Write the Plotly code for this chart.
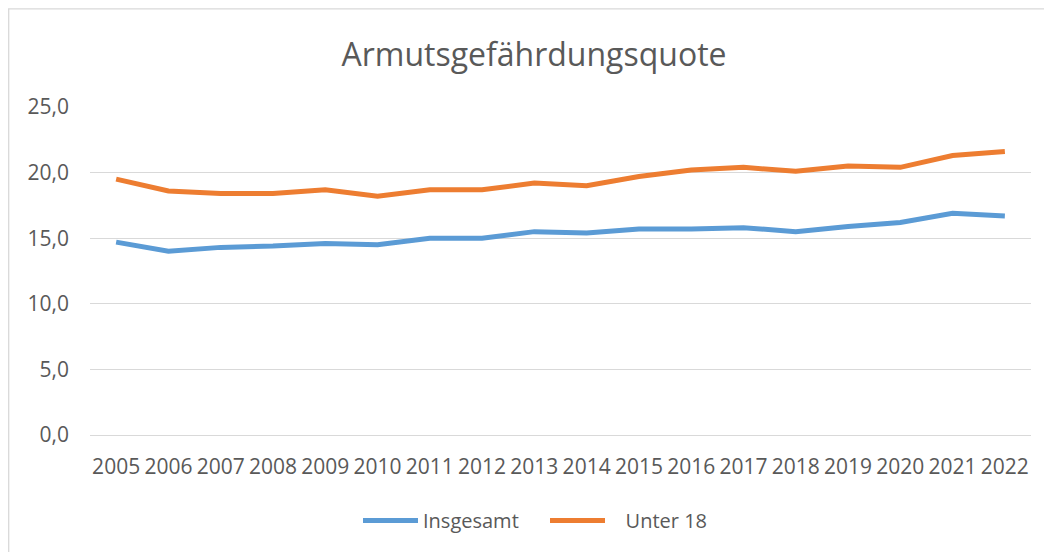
import plotly.graph_objects as go

years = [str(y) for y in range(2005, 2023)]
insgesamt = [14.7, 14.0, 14.3, 14.4, 14.6, 14.5, 15.0, 15.0, 15.5, 15.4,
             15.7, 15.7, 15.8, 15.5, 15.9, 16.2, 16.9, 16.7]
unter18 = [19.5, 18.6, 18.4, 18.4, 18.7, 18.2, 18.7, 18.7, 19.2, 19.0,
           19.7, 20.2, 20.4, 20.1, 20.5, 20.4, 21.3, 21.6]

# page is offset by the default 8px body margin
OX, OY = 8, 8
W, H = 1052 - OX, 552 - OY
# plot area in page coords: x 90..1031, y 107..434.7
L = 90 - OX
R = W - (1031 - OX)
T = 107 - OY
B = H - (434.7 - OY)
pw, ph = W - L - R, H - T - B

def px(x):  # page x -> paper
    return (x - OX - L) / pw

def py(y):  # page y -> paper
    return (H - B - (y - OY)) / ph

font = "Open Sans, Liberation Sans, sans-serif"
txt = "#595959"

fig = go.Figure()
fig.add_trace(go.Scatter(x=years, y=insgesamt, name="Insgesamt", mode="lines",
                         line=dict(color="#5B9BD5", width=5)))
fig.add_trace(go.Scatter(x=years, y=unter18, name="\u00a0\u00a0\u00a0Unter 18", mode="lines",
                         line=dict(color="#ED7D31", width=5)))

fig.update_layout(
    width=W, height=H,
    margin=dict(l=L, r=R, t=T, b=B),
    paper_bgcolor="white", plot_bgcolor="white",
    separators=",.",
    title=dict(text="Armutsgefährdungsquote", x=(534 - OX) / W, xanchor="center",
               xref="container",
               y=1 - (55 - OY) / H, yanchor="middle", yref="container",
               font=dict(family=font, size=32, color=txt)),
    font=dict(family=font, color=txt),
    showlegend=True,
    legend=dict(orientation="h", x=px(366 - 8), xanchor="left", y=py(520), yanchor="middle",
                font=dict(family=font, size=20, color=txt), itemwidth=55,
                entrywidth=117, entrywidthmode="pixels",
                traceorder="normal"),
    xaxis=dict(type="category", showgrid=False, showline=False, zeroline=False,
               tickfont=dict(family=font, size=21, color=txt), ticks="",
               ticklabelstandoff=17, range=[-0.5, 17.5]),
    yaxis=dict(range=[0, 25], dtick=5, tickformat=".1f", showgrid=True,
               gridcolor="#D9D9D9", gridwidth=1.3, zeroline=True,
               zerolinecolor="#D9D9D9", zerolinewidth=1.3, showline=False,
               tickfont=dict(family=font, size=21, color=txt), ticks="",
               ticklabelstandoff=20),
    shapes=[
        dict(type="line", xref="paper", yref="paper", x0=px(8), x1=px(1060),
             y0=py(9), y1=py(9), line=dict(color="#D9D9D9", width=1.3)),
        dict(type="line", xref="paper", yref="paper", x0=px(8.7), x1=px(8.7),
             y0=py(9), y1=py(560), line=dict(color="#D9D9D9", width=1.3)),
    ],
)

fig.write_html("out.html")
